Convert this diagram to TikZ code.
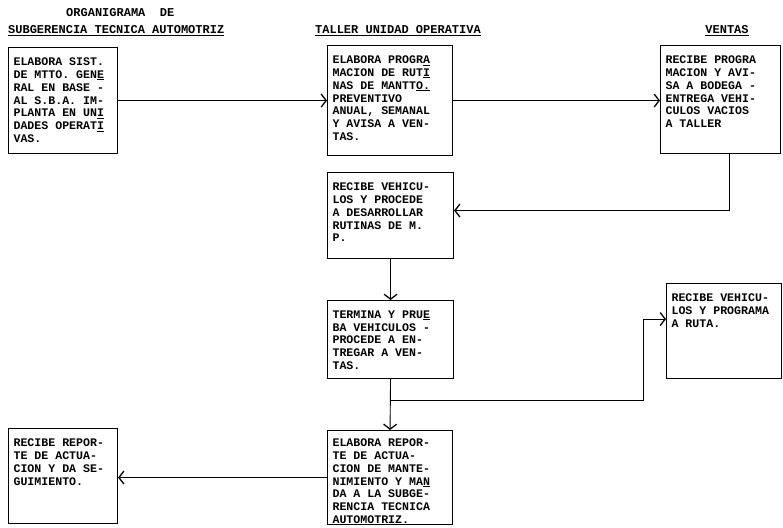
\documentclass[tikz,border=0pt]{standalone}
\usepackage{fontspec}
\setmonofont{Liberation Mono}
\usetikzlibrary{arrows.meta}
\newcommand{\bxt}[3]{\begin{minipage}[t][#2][t]{#1}\ttfamily\bfseries\fontsize{11.6}{12.9}\selectfont #3\end{minipage}}
\tikzset{
  box/.style={draw, line width=1.1pt, anchor=north west, inner xsep=5pt, inner ysep=10pt},
  arr/.style={line width=0.9pt, -{Straight Barb[length=5pt,width=13pt,line width=1.3pt]}},
  lnk/.style={line width=0.9pt},
  hd/.style={inner sep=0pt, font=\ttfamily\bfseries\fontsize{12}{14}\selectfont}
}
\begin{document}
\begin{tikzpicture}[x=1pt,y=-1pt]
\useasboundingbox (0,0) rectangle (783,527);
% headings
\node[hd, anchor=west] (t0) at (66,13) {ORGANIGRAMA\ \ DE};
\node[hd, anchor=west] (t1) at (8,31) {\underline{SUBGERENCIA TECNICA AUTOMOTRIZ}};
\node[hd] (t2) at (398,31) {\underline{TALLER UNIDAD OPERATIVA}};
\node[hd] (t3) at (727,31) {\underline{VENTAS}};
% boxes
\node[box] (A) at (8,47) {\bxt{99pt}{86pt}{ELABORA SIST.\\DE MTTO. GEN\underline{E}\\RAL EN BASE -\\AL S.B.A. IM-\\PLANTA EN UN\underline{I}\\DADES OPERAT\underline{I}\\VAS.}};
\node[box] (B) at (327,45) {\bxt{115pt}{90pt}{ELABORA PROGR\underline{A}\\MACION DE RUT\underline{I}\\NAS DE MANTT\underline{O.}\\PREVENTIVO\\ANUAL, SEMANAL\\Y AVISA A VEN-\\TAS.}};
\node[box] (C) at (660,45) {\bxt{110pt}{88pt}{RECIBE PROGRA\\MACION Y AVI-\\SA A BODEGA -\\ENTREGA VEHI-\\CULOS VACIOS\\A TALLER}};
\node[box] (D) at (327,172) {\bxt{116pt}{66pt}{RECIBE VEHICU-\\LOS Y PROCEDE\\A DESARROLLAR\\RUTINAS DE M.\\P.}};
\node[box] (E) at (327,300) {\bxt{116pt}{58pt}{TERMINA Y PRU\underline{E}\\BA VEHICULOS -\\PROCEDE A EN-\\TREGAR A VEN-\\TAS.}};
\node[box] (F) at (666,283) {\bxt{105pt}{75pt}{RECIBE VEHICU-\\LOS Y PROGRAMA\\A RUTA.}};
\node[box, inner ysep=8pt] (G) at (327,430) {\bxt{115pt}{78pt}{ELABORA REPOR-\\TE DE ACTUA-\\CION DE MANTE-\\NIMIENTO Y MA\underline{N}\\DA A LA SUBGE-\\RENCIA TECNICA\\AUTOMOTRIZ.}};
\node[box] (H) at (8,428) {\bxt{99pt}{75pt}{RECIBE REPOR-\\TE DE ACTUA-\\CION Y DA SE-\\GUIMIENTO.}};
% connectors
\draw[arr] (A.east) -- (A.east -| B.west);
\draw[arr] (B.east) -- (B.east -| C.west);
\coordinate (Cout) at ([xshift=9pt]C.south);
\coordinate (Din) at ([yshift=5pt]D.east);
\draw[arr] (Cout) |- (Din);
\draw[arr] (D.south -| E.north) -- (E.north);
\draw[arr] (E.south) -- (G.north);
\coordinate (jy) at (0,400);
\coordinate (j) at (E.south |- jy);
\coordinate (bend) at (643,0);
\coordinate (Fin) at ([yshift=12pt]F.west);
\draw[arr] (j) -| (bend |- Fin) -- (Fin);
\draw[arr] (G.west) -- (G.west -| H.east);
\end{tikzpicture}
\end{document}
